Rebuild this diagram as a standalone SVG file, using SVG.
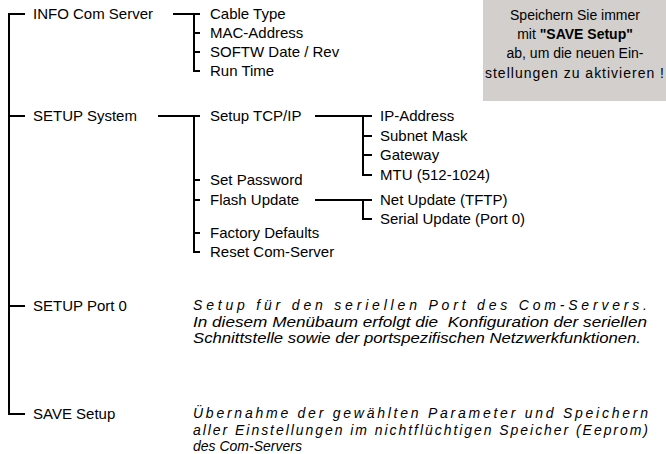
<svg xmlns="http://www.w3.org/2000/svg" width="666" height="454" viewBox="0 0 666 454">
<style>
text{font-family:"Liberation Sans",Arial,sans-serif;fill:#000}
.t{font-size:15px}
.b{font-size:14px;text-anchor:middle}
.d{font-size:14px;font-style:italic}
.c{fill:none;stroke:#000;stroke-width:2}
</style>
<rect x="0" y="0" width="666" height="454" fill="#fff"/>
<g id="note">
<rect x="483" y="0" width="183" height="101" fill="#d2cfcc"/>
<text class="b" x="575" y="20">Speichern Sie immer</text>
<text class="b" x="575" y="39">mit <tspan font-weight="bold">"SAVE Setup"</tspan></text>
<text class="b" x="575" y="58">ab, um die neuen Ein-</text>
<text class="b" x="574.5" y="78" textLength="179" lengthAdjust="spacing">stellungen zu aktivieren !</text>
</g>
<g id="connectors">
<path class="c" d="M25,14 H9 V414 H25 M9,116 H25 M9,306 H25"/>
<path class="c" d="M173,14 H200 M194,14 V71 H200 M194,33 H200 M194,52 H200"/>
<path class="c" d="M158,116 H200 M194,116 V252 H200 M194,180 H200 M194,200 H200 M194,233 H200"/>
<path class="c" d="M315,116 H372 M363,116 V175 H372 M363,136 H372 M363,155 H372"/>
<path class="c" d="M315,200 H372 M363,200 V219 H372"/>
</g>
<g id="info"><text class="t" x="33" y="19">INFO Com Server</text></g>
<g id="cable"><text class="t" x="210" y="19">Cable Type</text></g>
<g id="mac"><text class="t" x="210" y="38">MAC-Address</text></g>
<g id="softw"><text class="t" x="210" y="57">SOFTW Date / Rev</text></g>
<g id="runtime"><text class="t" x="210" y="76">Run Time</text></g>
<g id="setupsystem"><text class="t" x="33" y="121">SETUP System</text></g>
<g id="tcpip"><text class="t" x="210" y="121">Setup TCP/IP</text></g>
<g id="ipaddr"><text class="t" x="380" y="121">IP-Address</text></g>
<g id="subnet"><text class="t" x="380" y="141">Subnet Mask</text></g>
<g id="gateway"><text class="t" x="380" y="160">Gateway</text></g>
<g id="mtu"><text class="t" x="380" y="180">MTU (512-1024)</text></g>
<g id="password"><text class="t" x="210" y="185">Set Password</text></g>
<g id="flash"><text class="t" x="210" y="205">Flash Update</text></g>
<g id="netupdate"><text class="t" x="380" y="205">Net Update (TFTP)</text></g>
<g id="serialupdate"><text class="t" x="380" y="224">Serial Update (Port 0)</text></g>
<g id="factory"><text class="t" x="210" y="238">Factory Defaults</text></g>
<g id="reset"><text class="t" x="210" y="257">Reset Com-Server</text></g>
<g id="setupport">
<text class="t" x="33" y="311">SETUP Port 0</text>
<text class="d" x="193" y="310" textLength="454" lengthAdjust="spacing">Setup für den seriellen Port des Com-Servers.</text>
<text class="d" x="193" y="326.5" textLength="454" lengthAdjust="spacingAndGlyphs" xml:space="preserve">In diesem Menübaum erfolgt die  Konfiguration der seriellen</text>
<text class="d" x="193" y="343" textLength="448" lengthAdjust="spacingAndGlyphs">Schnittstelle sowie der portspezifischen Netzwerkfunktionen.</text>
</g>
<g id="savesetup">
<text class="t" x="33" y="419">SAVE Setup</text>
<text class="d" x="193" y="418" textLength="455" lengthAdjust="spacing">Übernahme der gewählten Parameter und Speichern</text>
<text class="d" x="193" y="434.5" textLength="455" lengthAdjust="spacing">aller Einstellungen im nichtflüchtigen Speicher (Eeprom)</text>
<text class="d" x="193" y="451">des Com-Servers</text>
</g>
</svg>
